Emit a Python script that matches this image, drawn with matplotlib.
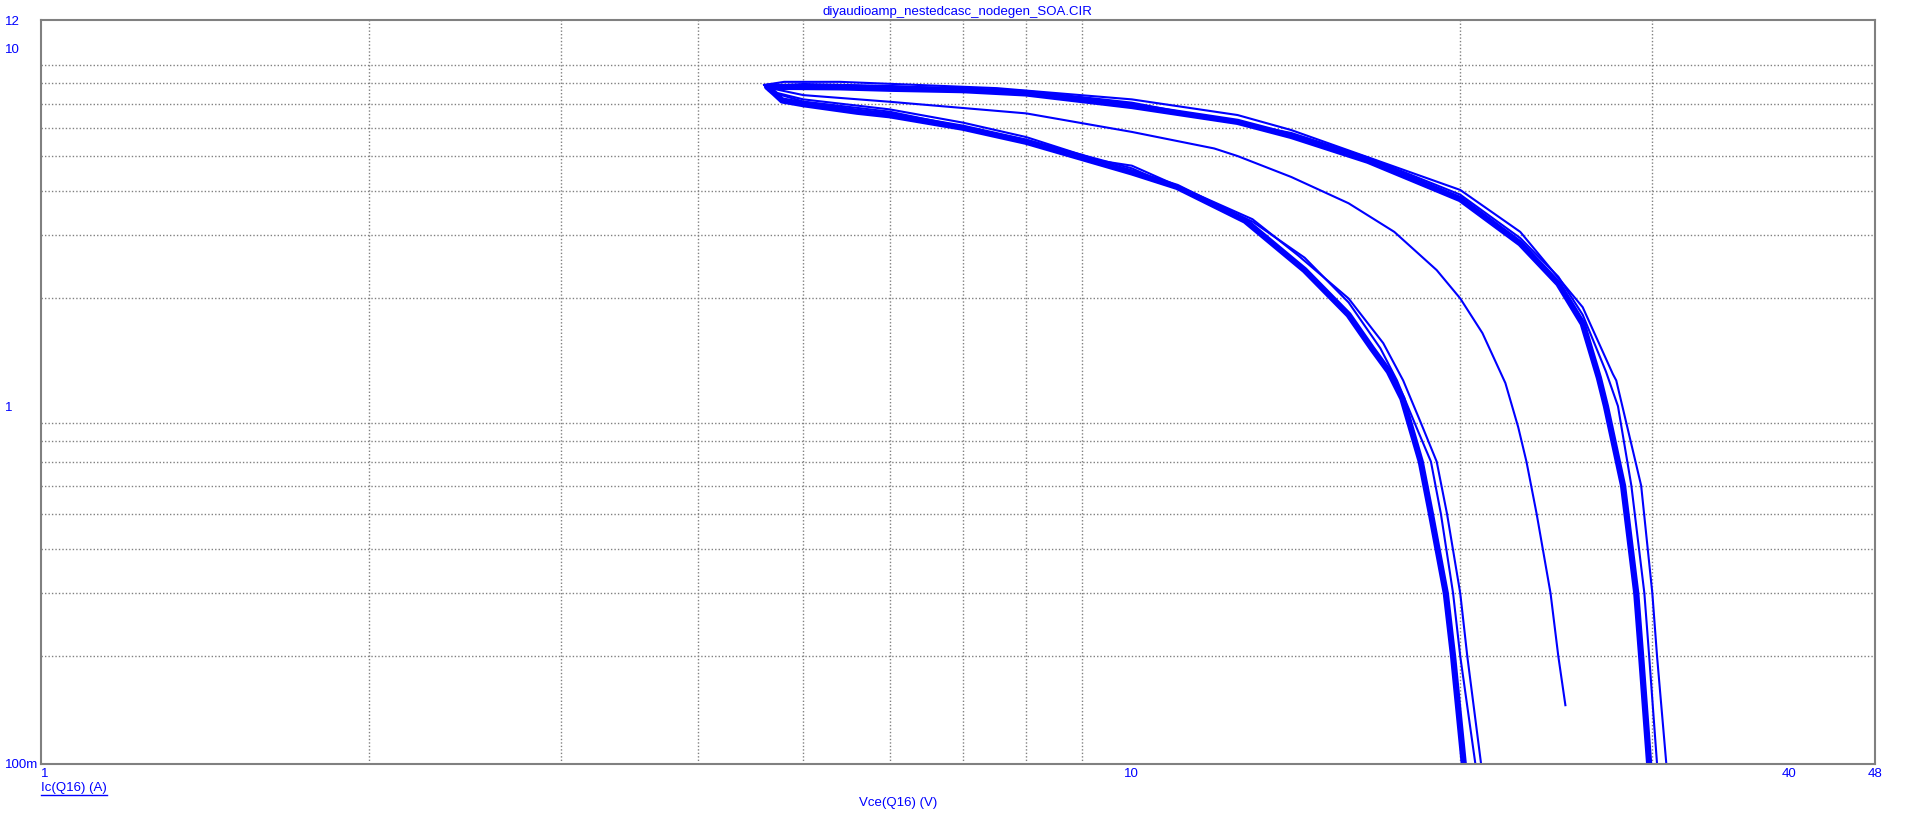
import matplotlib
matplotlib.use("Agg")
import matplotlib.pyplot as plt
from matplotlib.lines import Line2D

plt.rcParams['font.family'] = ['Liberation Sans', 'DejaVu Sans']

# Vce (V) / Ic (A)
# main bundle of cycles: right-hand branch (high Vce back to the tip)
upper_vce = [29.8, 29.3, 29.0, 28.2, 27.2, 26.8, 25.9, 24.6, 22.7, 20.0, 16.46, 14.0,
             12.5, 10.0, 8.0, 7.0, 6.0, 5.4, 4.63]
upper_ic = [0.1, 0.2, 0.3, 0.6, 1.0, 1.2, 1.7, 2.2, 2.85, 3.79, 4.85, 5.69,
            6.23, 6.9, 7.48, 7.64, 7.71, 7.78, 7.81]
# main bundle: left-hand branch (tip down to low current)
lower_vce = [4.63, 4.7, 4.78, 5.0, 5.6, 6.0, 7.0, 8.0, 10.0, 11.0, 12.7, 14.4, 15.8,
             16.6, 17.2, 17.7, 18.4, 18.8, 19.4, 19.7, 20.15]
lower_ic = [7.81, 7.5, 7.15, 6.98, 6.65, 6.5, 6.0, 5.48, 4.5, 4.1, 3.3, 2.4, 1.8,
            1.45, 1.25, 1.05, 0.7, 0.5, 0.3, 0.2, 0.1]

# single cycles that sit a little outside the bundle
upper_out1_vce = [30.9, 30.3, 30.0, 29.3, 27.8, 27.6, 25.9, 22.7, 20.0, 14.0, 12.5,
                  10.0, 7.52, 6.11, 5.4, 4.8, 4.6]
upper_out1_ic = [0.1, 0.2, 0.3, 0.6, 1.18, 1.23, 1.89, 3.07, 4.02, 5.91, 6.51,
                 7.2, 7.74, 7.94, 8.06, 8.06, 7.9]
upper_out2_vce = [30.3, 29.8, 29.5, 28.7, 27.9, 27.2, 25.9, 24.6, 22.7, 20.0, 16.46,
                  14.0, 10.0, 8.0, 6.0, 5.0, 4.65]
upper_out2_ic = [0.1, 0.2, 0.3, 0.6, 1.0, 1.25, 1.8, 2.3, 2.95, 3.9, 4.95,
                 5.8, 7.05, 7.6, 7.85, 7.95, 7.85]
lower_out1_vce = [4.65, 5.0, 6.0, 7.0, 8.0, 9.35, 10.0, 12.9, 14.2, 15.8, 17.0, 17.73,
                  18.4, 19.03, 19.45, 20.0, 20.3, 20.9]
lower_out1_ic = [7.6, 7.2, 6.75, 6.2, 5.65, 4.85, 4.7, 3.33, 2.64, 2.0, 1.5, 1.18,
                 0.9, 0.7, 0.5, 0.3, 0.2, 0.1]
lower_out2_vce = [4.7, 5.0, 6.0, 8.0, 10.0, 12.9, 14.4, 15.8, 16.9, 17.5, 18.3, 18.8,
                  19.2, 19.7, 20.0, 20.65]
lower_out2_ic = [7.5, 7.1, 6.65, 5.55, 4.62, 3.28, 2.6, 1.95, 1.45, 1.18, 0.85, 0.7,
                 0.5, 0.3, 0.2, 0.1]

# first (start-up) cycle in the middle
mid_vce = [4.7, 5.0, 6.0, 8.0, 10.0, 11.9, 12.5, 14.0, 15.8, 17.4, 19.03, 20.0, 20.96,
           22.0, 22.6, 23.0, 23.5, 24.2, 24.6, 24.97]
mid_ic = [7.7, 7.4, 7.09, 6.58, 5.84, 5.25, 5.0, 4.37, 3.69, 3.07, 2.4, 2.0, 1.6,
          1.16, 0.875, 0.7, 0.5, 0.3, 0.2, 0.146]

x_ticks = [1, 10, 40, 48]
x_labels = ['1', '10', '40', '48']
y_ticks = [0.1, 1, 10, 12]
y_labels = ['100m', '1', '10', '12']
x_grid = [2, 3, 4, 5, 6, 7, 8, 9, 10, 20, 30, 40]
y_grid = [0.2, 0.3, 0.4, 0.5, 0.6, 0.7, 0.8, 0.9, 1, 2, 3, 4, 5, 6, 7, 8, 9, 10]

title = 'diyaudioamp_nestedcasc_nodegen_SOA.CIR'
xlabel = 'Vce(Q16) (V)'
ylabel = 'Ic(Q16) (A)'

BLUE = '#0000FF'
GREY = '#808080'
W, H = 1907, 823

fig = plt.figure(figsize=(W / 100, H / 100), dpi=100)
ax = fig.add_axes([41 / W, 1 - 764 / H, (1875 - 41) / W, (764 - 20) / H])

ax.set_xscale('log')
ax.set_yscale('log')
ax.set_xlim(1, 48)
ax.set_ylim(0.1, 12)

# bundle of overlapping cycles -> thick line, single cycles -> thin line
ax.plot(upper_vce + lower_vce, upper_ic + lower_ic, color=BLUE, lw=4.5)
ax.plot(upper_out1_vce, upper_out1_ic, color=BLUE, lw=1.5)
ax.plot(upper_out2_vce, upper_out2_ic, color=BLUE, lw=1.5)
ax.plot(lower_out1_vce, lower_out1_ic, color=BLUE, lw=1.5)
ax.plot(lower_out2_vce, lower_out2_ic, color=BLUE, lw=1.5)
ax.plot(mid_vce, mid_ic, color=BLUE, lw=1.5)

# grid on minor ticks, labels on major ticks
ax.set_xticks(x_ticks)
ax.set_xticklabels(x_labels)
ax.set_xticks(x_grid, minor=True)
ax.set_yticks(y_ticks)
ax.set_yticklabels(y_labels)
ax.set_yticks(y_grid, minor=True)
ax.xaxis.set_minor_formatter(matplotlib.ticker.NullFormatter())
ax.yaxis.set_minor_formatter(matplotlib.ticker.NullFormatter())
ax.grid(True, which='minor', color=GREY, ls=(0, (1, 1.5)), lw=1.0)
ax.grid(False, which='major')
ax.tick_params(which='both', length=0, colors=BLUE, labelsize=9.5)
ax.tick_params(axis='x', pad=3)
ax.tick_params(axis='y', pad=26)
for lab in ax.get_yticklabels():
    lab.set_horizontalalignment('left')
ax.get_xticklabels()[0].set_horizontalalignment('left')

for s in ax.spines.values():
    s.set_color(GREY)
    s.set_linewidth(1.5)

fig.text(957 / W, 1 - 12 / H, title, color=BLUE, fontsize=9.5, ha='center', va='center')
fig.text(898 / W, 1 - 803 / H, xlabel, color=BLUE, fontsize=9.5, ha='center', va='center')
yl = fig.text(41 / W, 1 - 788 / H, ylabel, color=BLUE, fontsize=9.5, ha='left', va='center')

# underline the y-axis label
fig.canvas.draw()
bb = yl.get_window_extent(renderer=fig.canvas.get_renderer())
uy = (bb.y0 - 1) / H
fig.add_artist(Line2D([bb.x0 / W, bb.x1 / W], [uy, uy], color=BLUE, lw=1.0))

fig.savefig('out.png', dpi=100)
